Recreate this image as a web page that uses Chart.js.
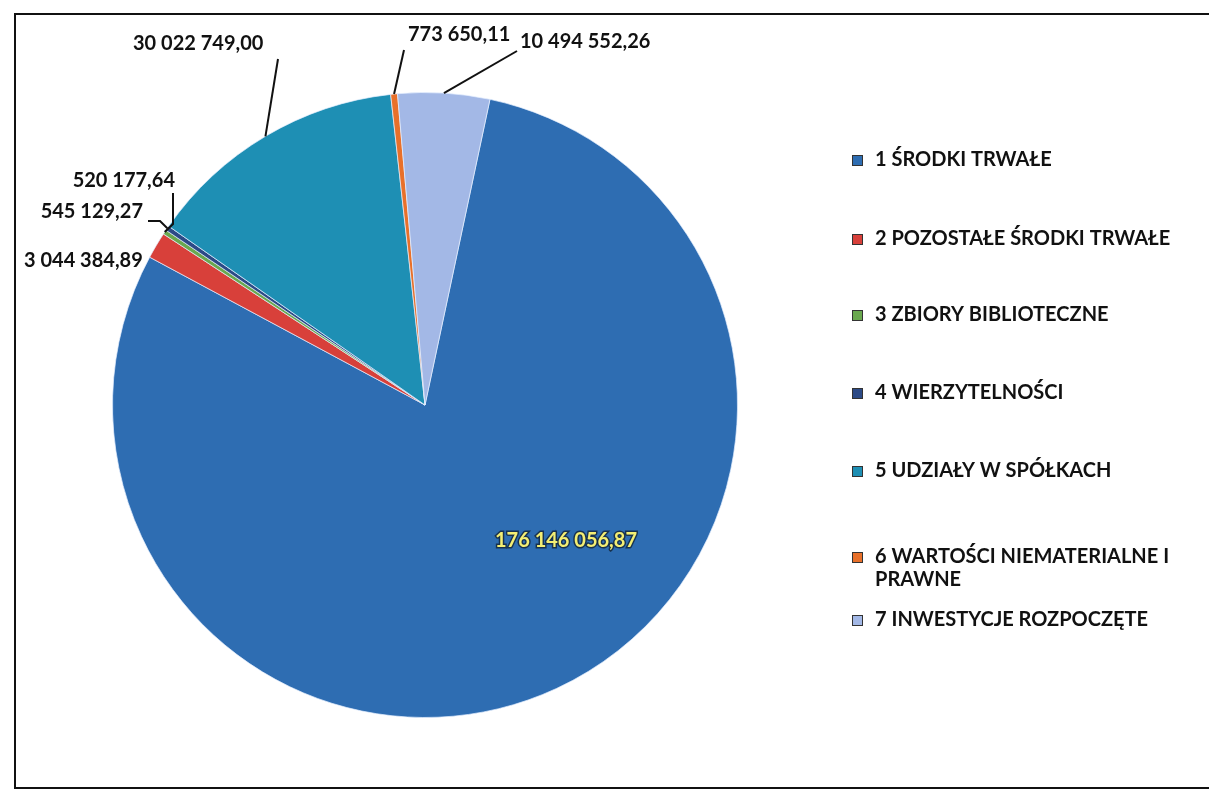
<!DOCTYPE html>
<html>
<head>
<meta charset="utf-8">
<script src="https://cdn.jsdelivr.net/npm/chart.js@4.4.1/dist/chart.umd.min.js"></script>
<style>
  body { margin: 0; background: #fff; }
  #wrap { position: relative; width: 1209px; height: 791px; }
</style>
</head>
<body>
<div id="wrap"><canvas id="pie" width="1209" height="791"></canvas></div>
<script>
// dane z wykresu
const categories = [
  "1 ŚRODKI TRWAŁE",
  "2 POZOSTAŁE ŚRODKI TRWAŁE",
  "3 ZBIORY BIBLIOTECZNE",
  "4 WIERZYTELNOŚCI",
  "5 UDZIAŁY W SPÓŁKACH",
  "6 WARTOŚCI NIEMATERIALNE I PRAWNE",
  "7 INWESTYCJE ROZPOCZĘTE"
];
const values = [176146056.87, 3044384.89, 520177.64, 545129.27, 30022749.00, 773650.11, 10494552.26];
const sliceColors = ["#2e6db2", "#d8403a", "#6aa84f", "#2c4a86", "#1e8fb4", "#e8702a", "#a3b8e6"];

// rozmieszczenie etykiet (tylko layout)
const labelLayout = [
  { inside: true, tx: 566, ty: 541 },
  { tx: 24, ty: 261, align: "left" },
  { tx: 175, ty: 181, align: "right", line: [[173, 193], [173, 224]] },
  { tx: 143, ty: 212, align: "right", line: [[148, 221], [160, 221]] },
  { tx: 133, ty: 44, align: "left", line: [[278, 59]] },
  { tx: 408, ty: 35, align: "left", line: [[404, 50]] },
  { tx: 520, ty: 42, align: "left", line: [[517, 51]] }
];
const legendY = [160, 239, 315, 393, 471, 557, 620];
const FONT = "Lato, 'Open Sans', sans-serif";

function fmt(v) {
  let parts = v.toFixed(2).split(".");
  let int = parts[0].replace(/\B(?=(\d{3})+(?!\d))/g, " ");
  return int + "," + parts[1];
}

const pieLabels = {
  id: "pieLabels",
  beforeDraw(chart) {
    const ctx = chart.ctx;
    ctx.save();
    ctx.strokeStyle = "#111";
    ctx.lineWidth = 2;
    ctx.beginPath();
    ctx.moveTo(1209, 14);
    ctx.lineTo(15, 14);
    ctx.lineTo(15, 788);
    ctx.lineTo(1209, 788);
    ctx.stroke();
    ctx.restore();
  },
  afterDraw(chart) {
    const ctx = chart.ctx;
    const meta = chart.getDatasetMeta(0);
    ctx.save();
    ctx.font = "bold 20px " + FONT;
    ctx.textBaseline = "middle";
    meta.data.forEach((arc, i) => {
      const p = arc.getProps(["x", "y", "startAngle", "endAngle", "outerRadius"], true);
      const mid = (p.startAngle + p.endAngle) / 2;
      const L = labelLayout[i];
      const txt = fmt(values[i]);
      if (L.inside) {
        ctx.textAlign = "center";
        ctx.lineWidth = 3;
        ctx.strokeStyle = "rgba(20,40,60,0.85)";
        ctx.strokeText(txt, L.tx, L.ty);
        ctx.fillStyle = "#f4ef74";
        ctx.fillText(txt, L.tx, L.ty);
        return;
      }
      const ax = p.x + Math.cos(mid) * p.outerRadius;
      const ay = p.y + Math.sin(mid) * p.outerRadius;
      if (L.line) {
        ctx.strokeStyle = "#111";
        ctx.lineWidth = 2;
        ctx.beginPath();
        ctx.moveTo(L.line[0][0], L.line[0][1]);
        for (let k = 1; k < L.line.length; k++) ctx.lineTo(L.line[k][0], L.line[k][1]);
        ctx.lineTo(ax, ay);
        ctx.stroke();
      }
      ctx.textAlign = L.align;
      ctx.fillStyle = "#111";
      ctx.fillText(txt, L.tx, L.ty);
    });

    // legenda
    ctx.font = "bold 20px " + FONT;
    ctx.textAlign = "left";
    categories.forEach((name, i) => {
      const y = legendY[i];
      ctx.fillStyle = sliceColors[i];
      ctx.fillRect(852, y - 5, 11, 11);
      ctx.strokeStyle = "#333";
      ctx.lineWidth = 1;
      ctx.strokeRect(852.5, y - 4.5, 10, 10);
      ctx.fillStyle = "#111";
      if (i === 5) {
        ctx.fillText("6 WARTOŚCI NIEMATERIALNE I", 875, y);
        ctx.fillText("PRAWNE", 875, y + 23);
      } else {
        ctx.fillText(name, 875, y);
      }
    });
    ctx.restore();
  }
};

new Chart(document.getElementById("pie"), {
  type: "pie",
  data: {
    labels: categories,
    datasets: [{
      data: values,
      backgroundColor: sliceColors,
      borderColor: "rgba(230,240,255,0.7)",
      borderWidth: 1
    }]
  },
  options: {
    responsive: false,
    animation: false,
    devicePixelRatio: 1,
    rotation: 12,
    layout: { padding: { left: 112, right: 471, top: 92, bottom: 73 } },
    plugins: {
      legend: { display: false },
      tooltip: { enabled: false }
    }
  },
  plugins: [pieLabels]
});
</script>
</body>
</html>
